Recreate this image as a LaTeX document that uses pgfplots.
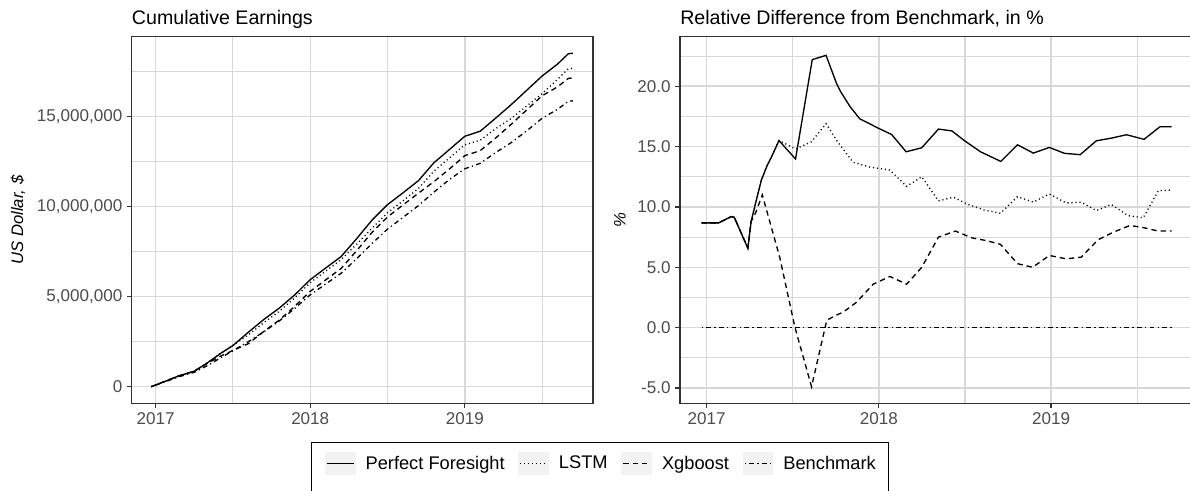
\documentclass[border=0pt]{standalone}
\usepackage{pgfplots}
\pgfplotsset{compat=1.18}
\usepackage{pgfplotstable}
\usepackage{fontspec}
\setmainfont{Liberation Sans}
\definecolor{gridc}{RGB}{216,216,216}
\definecolor{tickc}{RGB}{77,77,77}
\definecolor{framec}{RGB}{51,51,51}

% cumulative earnings, millions of US dollars
\pgfplotstableread{
x B PF LSTM XG
2016.971 0.000 0.000 0.000 0.000
2017.070 0.300 0.326 0.326 0.326
2017.150 0.550 0.601 0.601 0.601
2017.250 0.800 0.862 0.862 0.858
2017.330 1.150 1.295 1.295 1.272
2017.420 1.600 1.848 1.848 1.696
2017.500 2.000 2.284 2.298 2.012
2017.600 2.500 3.028 2.883 2.390
2017.700 3.050 3.733 3.559 3.070
2017.800 3.650 4.365 4.183 3.699
2017.900 4.350 5.098 4.937 4.463
2018.000 5.100 5.942 5.773 5.294
2018.100 5.700 6.589 6.418 5.928
2018.200 6.300 7.226 7.056 6.565
2018.300 7.100 8.215 7.909 7.547
2018.400 7.950 9.250 8.801 8.570
2018.500 8.750 10.106 9.651 9.424
2018.600 9.400 10.763 10.321 10.086
2018.700 10.050 11.437 11.005 10.743
2018.800 10.800 12.431 11.966 11.383
2018.900 11.500 13.162 12.696 12.081
2019.000 12.100 13.903 13.431 12.826
2019.100 12.400 14.186 13.683 13.107
2019.200 13.000 14.911 14.326 13.806
2019.300 13.550 15.657 14.891 14.566
2019.400 14.200 16.451 15.577 15.357
2019.500 14.900 17.247 16.271 16.149
2019.600 15.400 17.910 17.063 16.647
2019.670 15.850 18.487 17.657 17.118
2019.700 15.870 18.511 17.679 17.140
}\cumdata

\pgfplotstableread{
x y
2016.971 8.68
2017.070 8.68
2017.142 9.20
2017.160 9.15
2017.239 6.58
2017.258 8.80
2017.317 12.20
2017.350 13.40
2017.375 14.10
2017.420 15.50
2017.516 13.97
2017.613 22.20
2017.693 22.56
2017.755 20.20
2017.780 19.50
2017.833 18.30
2017.889 17.30
2018.000 16.50
2018.074 16.00
2018.158 14.57
2018.249 14.90
2018.346 16.45
2018.424 16.30
2018.496 15.50
2018.590 14.57
2018.708 13.77
2018.805 15.15
2018.897 14.46
2018.990 14.93
2019.078 14.44
2019.169 14.33
2019.263 15.48
2019.350 15.70
2019.438 15.98
2019.540 15.60
2019.632 16.64
2019.700 16.64
}\relPF

\pgfplotstableread{
x y
2016.971 8.68
2017.070 8.68
2017.142 9.20
2017.160 9.15
2017.239 6.58
2017.258 8.80
2017.317 12.20
2017.350 13.40
2017.375 14.10
2017.420 15.50
2017.516 14.80
2017.609 15.40
2017.693 16.90
2017.755 15.50
2017.850 13.70
2017.947 13.30
2018.064 13.06
2018.161 11.70
2018.249 12.50
2018.346 10.50
2018.434 10.80
2018.510 10.25
2018.610 9.75
2018.706 9.48
2018.805 10.85
2018.897 10.40
2018.990 11.07
2019.088 10.33
2019.175 10.39
2019.263 9.70
2019.350 10.20
2019.447 9.28
2019.535 9.10
2019.623 11.35
2019.700 11.40
}\relLSTM

\pgfplotstableread{
x y
2016.971 8.68
2017.070 8.68
2017.142 9.20
2017.160 9.15
2017.239 6.58
2017.258 8.80
2017.284 9.50
2017.323 11.00
2017.424 5.84
2017.512 0.05
2017.609 -4.90
2017.697 0.60
2017.740 0.95
2017.794 1.30
2017.870 2.10
2017.967 3.60
2018.064 4.24
2018.161 3.60
2018.249 5.00
2018.346 7.50
2018.444 8.00
2018.540 7.44
2018.628 7.20
2018.706 6.90
2018.805 5.30
2018.893 5.00
2018.990 5.98
2019.088 5.70
2019.175 5.84
2019.272 7.27
2019.360 7.90
2019.457 8.46
2019.525 8.32
2019.623 8.00
2019.700 8.00
}\relXG

\pgfplotstableread{
x y
2016.971 0
2019.700 0
}\relB

\pgfplotsset{
  panel/.style={
    scale only axis,
    height=274.95pt,
    xmin=2016.845, xmax=2019.83,
    xtick={2017,2018,2019},
    xticklabels={2017,2018,2019},
    minor xtick={2016.5,2017.5,2018.5,2019.5},
    xtick pos=bottom, ytick pos=left,
    grid=both,
    major grid style={draw=gridc, line width=1.1pt},
    minor grid style={draw=gridc, line width=0.8pt},
    axis line style={draw=framec, line width=1.1pt},
    tick style={draw=framec, line width=0.9pt},
    tick align=outside,
    major tick length=3.5pt,
    minor tick length=0pt,
    tick label style={font=\fontsize{12.8}{14}\selectfont, text=tickc},
    every axis title/.style={font=\fontsize{14.7}{16}\selectfont, anchor=base west,
      at={(axis description cs:0,1)}, yshift=9.3pt, inner sep=0pt},
    every axis plot/.append style={black, line width=1pt},
    /pgf/number format/assume math mode=true,
  },
  pf/.style={solid},
  lstm/.style={dash pattern=on 0.8pt off 2.2pt},
  xg/.style={dash pattern=on 4pt off 3pt},
  bm/.style={dash pattern=on 0.9pt off 2.5pt on 3.6pt off 2.5pt},
}

\begin{document}
\begin{tikzpicture}
\useasboundingbox (0pt,0pt) rectangle (892.5pt,367.5pt);

\begin{axis}[panel,
  at={(98.8pt,65pt)}, anchor=south west,
  width=346pt,
  ymin=-0.925, ymax=19.43,
  ytick={0,5,10,15},
  yticklabels={0,{5,000,000},{10,000,000},{15,000,000}},
  minor ytick={2.5,7.5,12.5,17.5},
  title={Cumulative Earnings},
  ylabel={US Dollar, \$},
  every axis y label/.style={at={(axis description cs:-0.2465,0.5)}, rotate=90, anchor=center,
    font=\fontsize{12.5}{14}\selectfont\itshape},
]
\addplot[pf] table[x=x, y=PF] {\cumdata};
\addplot[lstm] table[x=x, y=LSTM] {\cumdata};
\addplot[xg] table[x=x, y=XG] {\cumdata};
\addplot[bm] table[x=x, y=B] {\cumdata};
\end{axis}

\begin{axis}[panel,
  at={(510pt,65pt)}, anchor=south west,
  width=385.5pt,
  ymin=-6.27, ymax=24.1,
  ytick={-5,0,5,10,15,20},
  yticklabels={-5.0,0.0,5.0,10.0,15.0,20.0},
  minor ytick={-2.5,2.5,7.5,12.5,17.5,22.5},
  title={Relative Difference from Benchmark, in \%},
  ylabel={\%},
  every axis y label/.style={at={(axis description cs:-0.1167,0.5)}, rotate=90, anchor=center,
    font=\fontsize{12.5}{14}\selectfont\itshape},
  legend columns=4,
  legend style={
    at={(axis description cs:-0.1556,-0.1047)}, anchor=north,
    draw=black, line width=0.8pt,
    inner xsep=9.5pt, inner ysep=7.5pt,
    font=\fontsize{13.7}{15}\selectfont,
    nodes={inner xsep=0pt},
    /tikz/every odd column/.append style={column sep=7.5pt},
    /tikz/every even column/.append style={column sep=9.75pt},
  },
  legend image code/.code={
    \fill[black!5, draw=none, solid] (0pt,-8.5pt) rectangle (23pt,8.5pt);
    \path (0pt,-20pt);
    \draw (1.5pt,0pt) -- (21.5pt,0pt);
  },
]
\addplot[pf] table[x=x, y=y] {\relPF};
\addlegendentry{Perfect Foresight}
\addplot[lstm] table[x=x, y=y] {\relLSTM};
\addlegendentry{LSTM}
\addplot[xg] table[x=x, y=y] {\relXG};
\addlegendentry{Xgboost}
\addplot[bm] table[x=x, y=y] {\relB};
\addlegendentry{Benchmark}
\end{axis}
\end{tikzpicture}
\end{document}
